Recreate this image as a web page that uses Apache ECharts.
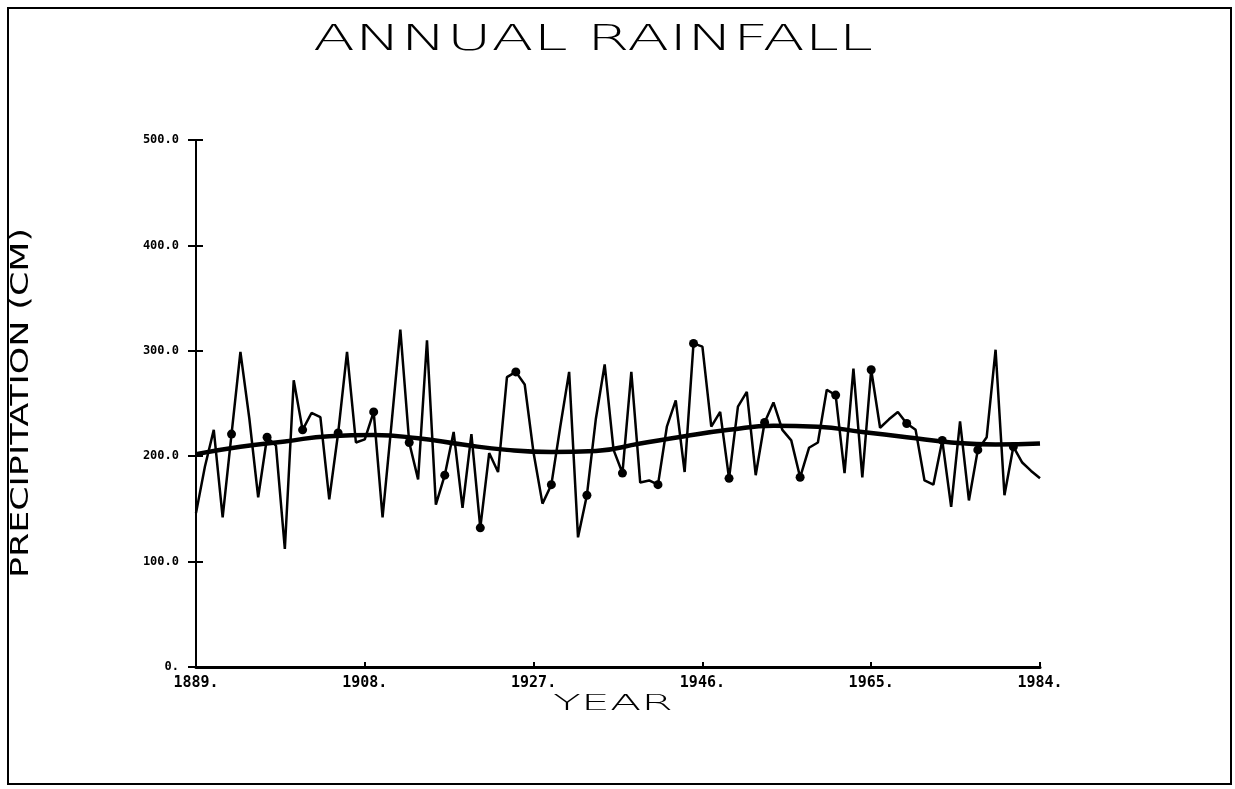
<!DOCTYPE html>
<html><head><meta charset="utf-8">
<script src="https://cdn.jsdelivr.net/npm/echarts@6/dist/echarts.min.js"></script>
<style>html,body{margin:0;padding:0;background:#fff}#c{width:1235px;height:789px}</style>
</head><body><div id="c"></div>
<script>
// ---- data ----
const startYear = 1889;
const annualRain = [
  146,190,225,142,221,299,236,161,218,210,
  112,272,225,241,237,159,222,299,213,216,
  242,142,230,320,213,178,310,154,182,223,
  151,221,132,203,185,275,280,268,203,155,
  173,228,280,123,163,235,287,206,184,280,
  175,177,173,228,253,185,307,304,228,242,
  179,247,261,182,232,251,225,215,180,208,
  213,263,258,184,283,180,282,227,235,242,
  231,225,177,173,215,152,233,158,206,218,
  301,163,209,194,186,179
];
const trendYears  = [1889,1894,1899,1904,1909,1914,1919,1924,1929,1934,1939,1944,1949,1954,1959,1964,1969,1974,1979,1984];
const trendValues = [ 202, 209, 214, 219, 220, 217, 211, 206, 204, 205, 212, 219, 225, 229, 228, 223, 218, 213, 211, 212];
const xTickYears = [1889, 1908, 1927, 1946, 1965, 1984];
const yTickValues = [0, 100, 200, 300, 400, 500];
const markerEvery = 4;

function textScale(text, font, targetWidth) {
  const ctx = document.createElement('canvas').getContext('2d');
  ctx.font = font;
  return targetWidth / ctx.measureText(text).width;
}

const titleFont = { size: 36, weight: 200, family: '"DejaVu Sans", sans-serif' };
const yNameFont = { size: 25, weight: 200, family: '"DejaVu Sans Condensed", "Liberation Sans Narrow", "DejaVu Sans", sans-serif' };
const xNameFont = { size: 21, weight: 200, family: '"DejaVu Sans", sans-serif' };
function fontStr(f) { return f.weight + ' ' + f.size + 'px ' + f.family; }

const chart = echarts.init(document.getElementById('c'), null, { renderer: 'canvas' });

const rawData = annualRain.map((v, i) => ({
  value: [startYear + i, v],
  symbol: (i > 0 && i % markerEvery === 0) ? 'circle' : 'none'
}));
const trendData = trendYears.map((y, i) => [y, trendValues[i]]);

const option = {
  animation: false,
  backgroundColor: '#fff',
  grid: { left: 196, right: 195, top: 140, bottom: 122, containLabel: false },
  xAxis: {
    type: 'value',
    min: xTickYears[0],
    max: xTickYears[xTickYears.length - 1],
    axisLine: { show: true, lineStyle: { color: '#000', width: 3 } },
    axisTick: { show: true, inside: true, length: 5, customValues: xTickYears, lineStyle: { color: '#000', width: 2 } },
    axisLabel: {
      show: true, customValues: xTickYears, margin: 9,
      formatter: v => v + '.',
      color: '#000', fontSize: 15, fontWeight: 'bold', fontFamily: '"DejaVu Sans Mono", monospace'
    },
    splitLine: { show: false }
  },
  yAxis: [{
    type: 'value', min: yTickValues[0], max: yTickValues[yTickValues.length - 1], interval: 100,
    axisLine: { show: true, lineStyle: { color: '#000', width: 2 } },
    axisTick: { show: true, inside: false, length: 8, lineStyle: { color: '#000', width: 2 } },
    axisLabel: {
      margin: 17, color: '#000', fontSize: 12, fontWeight: 'bold', fontFamily: '"DejaVu Sans Mono", monospace',
      formatter: v => v === 0 ? '0.' : v.toFixed(1)
    },
    splitLine: { show: false }
  }, {
    type: 'value', min: yTickValues[0], max: yTickValues[yTickValues.length - 1], interval: 100, position: 'left', offset: 0,
    axisLine: { show: false },
    axisTick: { show: true, inside: true, length: 7, lineStyle: { color: '#000', width: 2 } },
    axisLabel: { show: false },
    splitLine: { show: false }
  }],
  series: [{
    type: 'line',
    data: rawData,
    symbolSize: 9,
    itemStyle: { color: '#000' },
    lineStyle: { color: '#000', width: 2.5 },
    z: 3
  }, {
    type: 'line',
    data: trendData,
    smooth: true,
    showSymbol: false,
    lineStyle: { color: '#000', width: 4.5 },
    z: 4
  }],
  graphic: [
    { type: 'rect', shape: { x: 8, y: 8, width: 1223, height: 776 }, style: { fill: 'none', stroke: '#000', lineWidth: 2 }, silent: true },
    {
      type: 'text', x: 593, y: 41, scaleX: textScale('ANNUAL RAINFALL', fontStr(titleFont), 560),
      style: { text: 'ANNUAL RAINFALL', fontSize: titleFont.size, fontWeight: titleFont.weight, fontFamily: titleFont.family,
               fill: '#000', align: 'center', verticalAlign: 'middle' }
    },
    {
      type: 'text', x: 613, y: 705, scaleX: textScale('YEAR', fontStr(xNameFont), 120),
      style: { text: 'YEAR', fontSize: xNameFont.size, fontWeight: xNameFont.weight, fontFamily: xNameFont.family,
               fill: '#000', align: 'center', verticalAlign: 'middle' }
    },
    {
      type: 'text', x: 21, y: 403, rotation: Math.PI / 2,
      scaleX: textScale('PRECIPITATION (CM)', fontStr(yNameFont), 350),
      style: { text: 'PRECIPITATION (CM)', fontSize: yNameFont.size, fontWeight: yNameFont.weight, fontFamily: yNameFont.family,
               fill: '#000', align: 'center', verticalAlign: 'middle' }
    }
  ]
};
chart.setOption(option);
</script>
</body></html>
